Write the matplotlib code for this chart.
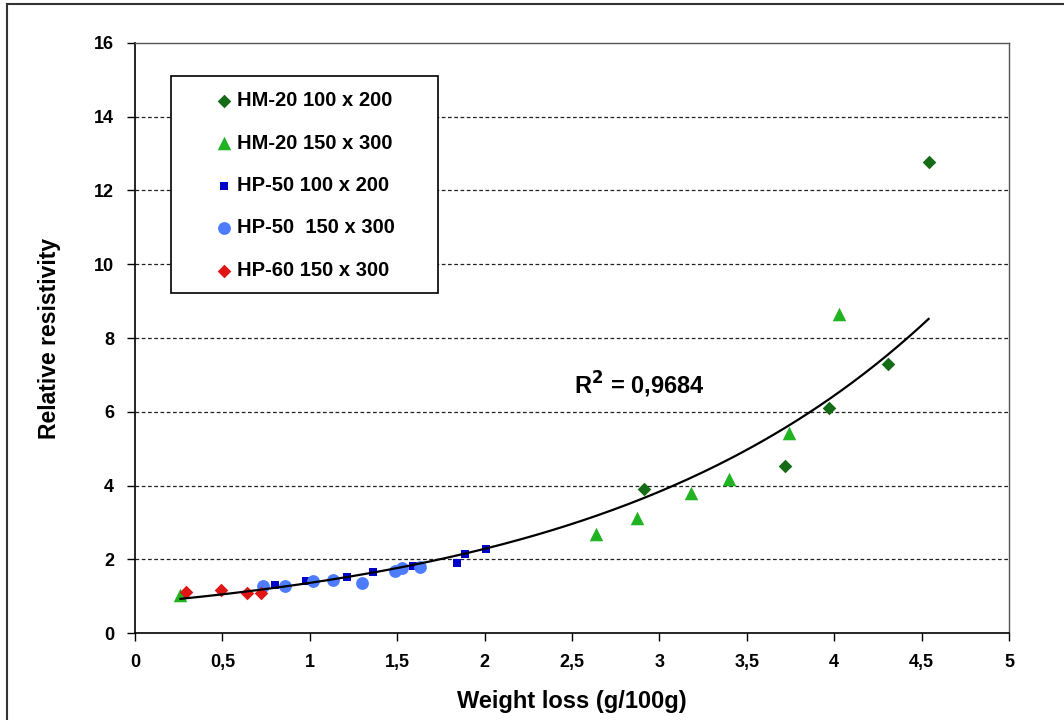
import matplotlib
matplotlib.use("Agg")
import matplotlib.pyplot as plt
from matplotlib.lines import Line2D
from matplotlib.patches import Rectangle
import numpy as np

# series (weight loss g/100g, relative resistivity)
hm20_100_x = [2.91, 3.72, 3.97, 4.31, 4.54]
hm20_100_y = [3.90, 4.53, 6.10, 7.29, 12.77]

hm20_150_x = [0.26, 2.64, 2.87, 3.18, 3.40, 3.74, 4.03]
hm20_150_y = [1.03, 2.68, 3.11, 3.81, 4.18, 5.43, 8.64]

hp50_100_x = [0.80, 0.98, 1.21, 1.36, 1.59, 1.84, 1.89, 2.01]
hp50_100_y = [1.30, 1.42, 1.53, 1.65, 1.82, 1.91, 2.14, 2.27]

hp50_150_x = [0.73, 0.86, 1.02, 1.13, 1.30, 1.49, 1.53, 1.63]
hp50_150_y = [1.28, 1.28, 1.42, 1.44, 1.36, 1.69, 1.77, 1.78]

hp60_150_x = [0.29, 0.49, 0.64, 0.72]
hp60_150_y = [1.10, 1.17, 1.08, 1.08]

labels = ["HM-20 100 x 200", "HM-20 150 x 300", "HP-50 100 x 200",
          "HP-50  150 x 300", "HP-60 150 x 300"]
x_ticks = [0, 0.5, 1, 1.5, 2, 2.5, 3, 3.5, 4, 4.5, 5]
x_tick_labels = ["0", "0,5", "1", "1,5", "2", "2,5", "3", "3,5", "4", "4,5", "5"]
y_ticks = [0, 2, 4, 6, 8, 10, 12, 14, 16]
r2_text = "R$^2$ = 0,9684"

plt.rcParams['font.family'] = ['Liberation Sans', 'DejaVu Sans']
plt.rcParams['font.weight'] = 'bold'
plt.rcParams['mathtext.default'] = 'bf'

fig = plt.figure(figsize=(10.64, 7.2), dpi=100)
ax = fig.add_axes([0.1269, 0.1208, 0.8214, 0.8195])

# outer frame (only left and top edges visible)
fig.add_artist(Line2D([0.0066, 0.0066], [0.0, 0.9945], color='#333333', lw=1.5))
fig.add_artist(Line2D([0.0066, 1.0], [0.9945, 0.9945], color='#333333', lw=1.5))

series = [
    (hm20_100_x, hm20_100_y, 'D', 48, '#166b16'),
    (hm20_150_x, hm20_150_y, '^', 95, '#22b322'),
    (hp50_100_x, hp50_100_y, 's', 30, '#0000c8'),
    (hp50_150_x, hp50_150_y, 'o', 85, '#4d7cff'),
    (hp60_150_x, hp60_150_y, 'D', 48, '#e01515'),
]
for (xs, ys, m, s, c), lab in zip(series, labels):
    ax.scatter(xs, ys, marker=m, s=s, color=c, label=lab, zorder=3, linewidths=0)

# exponential trend line fitted to all points (like Excel)
all_x = np.array(hm20_100_x + hm20_150_x + hp50_100_x + hp50_150_x + hp60_150_x)
all_y = np.array(hm20_100_y + hm20_150_y + hp50_100_y + hp50_150_y + hp60_150_y)
b, ln_a = np.polyfit(all_x, np.log(all_y), 1)
xx = np.linspace(all_x.min(), all_x.max(), 200)
ax.plot(xx, np.exp(ln_a) * np.exp(b * xx), color='black', lw=1.6, zorder=4)

ax.text(2.51, 6.73, r2_text, fontsize=17, fontweight='bold', ha='left', va='center')

ax.set_xlim(0, 5)
ax.set_ylim(0, 16)
ax.set_xticks(x_ticks)
ax.set_xticklabels(x_tick_labels)
ax.set_yticks(y_ticks)
ax.tick_params(axis='both', direction='out', length=6, width=1, labelsize=13, pad=9)
for lab in ax.get_xticklabels() + ax.get_yticklabels():
    lab.set_fontweight('bold')

for yv in y_ticks[1:-1]:
    ax.axhline(yv, color='#222222', lw=0.9, dashes=(3, 2), zorder=1)

for side in ['left', 'bottom']:
    ax.spines[side].set_color('black')
    ax.spines[side].set_linewidth(1.2)
for side in ['top', 'right']:
    ax.spines[side].set_color('#555555')
    ax.spines[side].set_linewidth(1.0)

ax.set_xlabel("Weight loss (g/100g)", fontsize=17, fontweight='bold', labelpad=14)
ax.set_ylabel("Relative resistivity", fontsize=16.5, fontweight='bold', labelpad=24)

# legend box drawn separately so the padding matches the reference
ax.add_patch(Rectangle((0.0412, 0.576), 0.3055, 0.368, transform=ax.transAxes,
                       facecolor='white', edgecolor='black', lw=1.2, zorder=5))
leg = ax.legend(loc='upper left', bbox_to_anchor=(0.0925, 0.918), frameon=False,
                fontsize=14.5, labelspacing=1.16, borderpad=0, borderaxespad=0,
                handletextpad=0.25, handlelength=0.8, scatterpoints=1)
leg.set_zorder(6)
for t in leg.get_texts():
    t.set_fontweight('bold')

fig.savefig("out.png", dpi=100)
